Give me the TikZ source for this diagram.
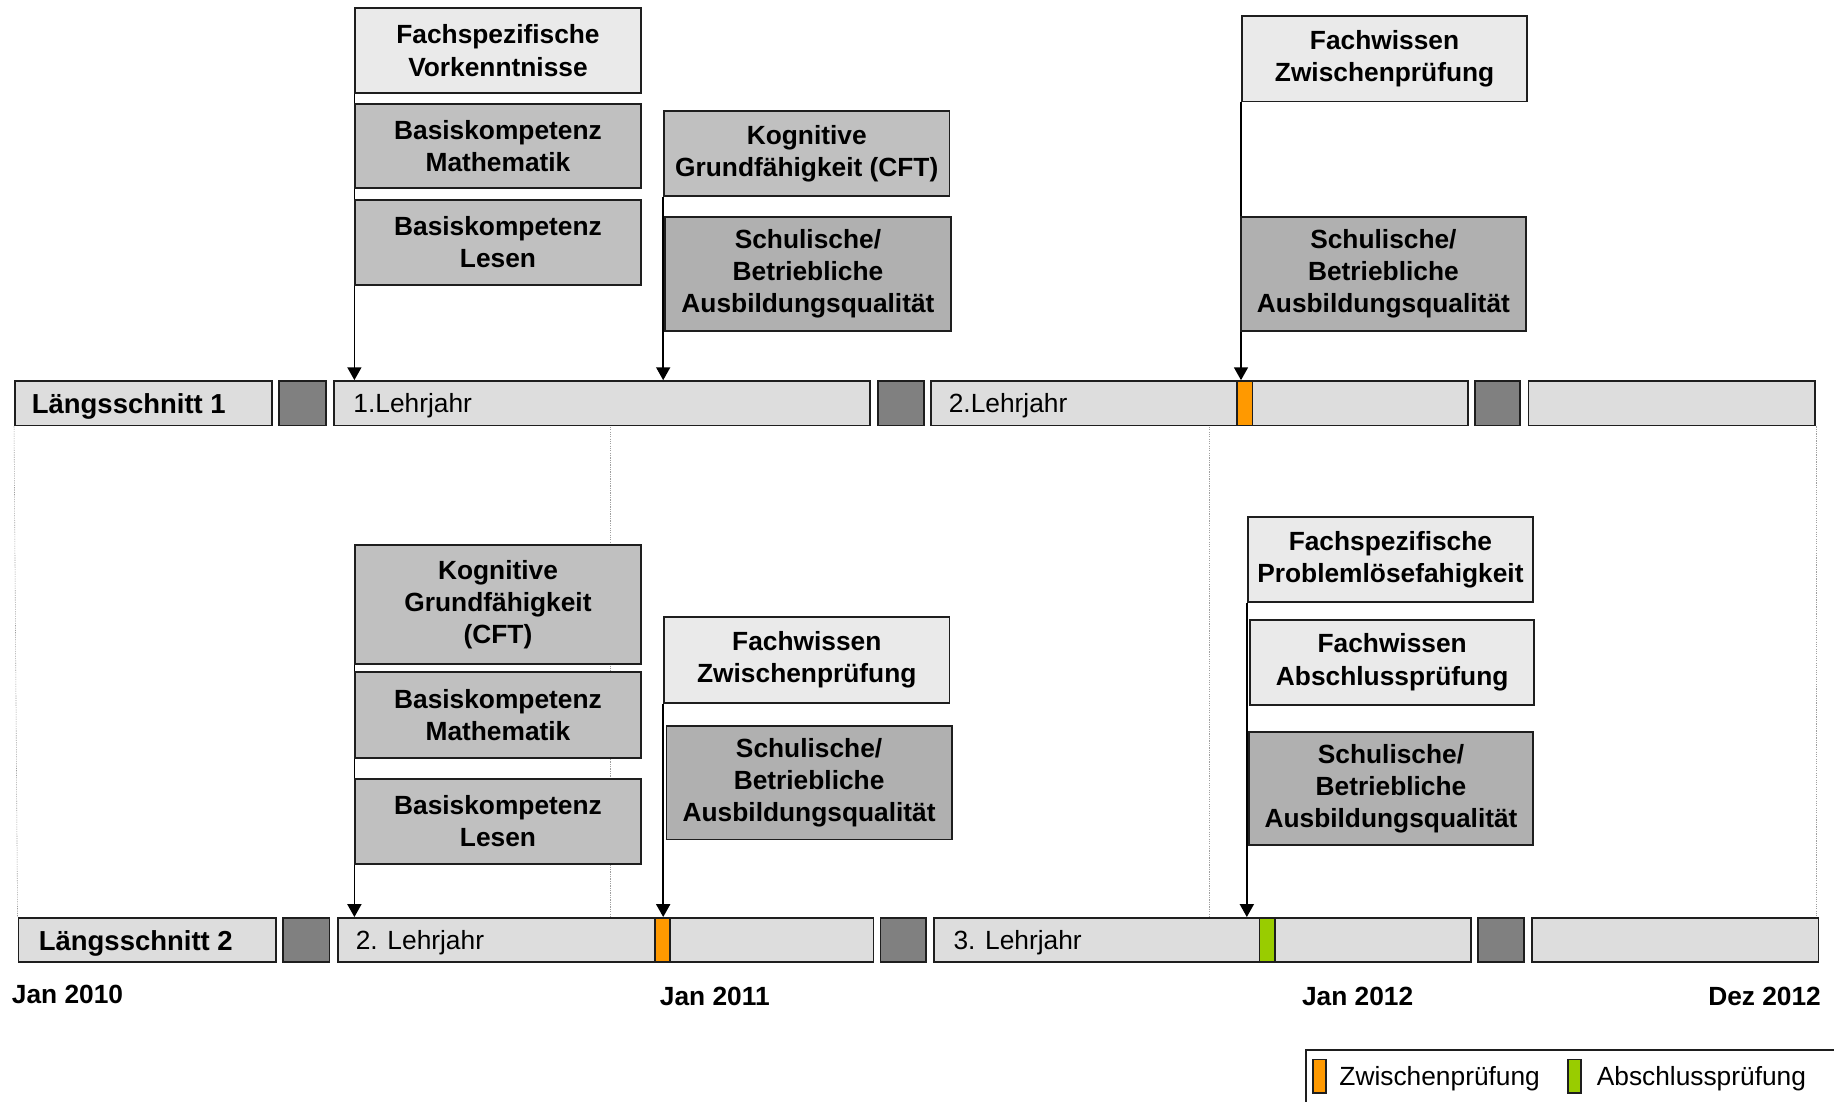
\documentclass[tikz,border=0pt]{standalone}
\usepackage{fontspec}
\setmainfont{Liberation Sans}
\usetikzlibrary{arrows.meta,backgrounds}
\definecolor{cLight}{HTML}{EAEAEA}
\definecolor{cMid}{HTML}{C0C0C0}
\definecolor{cDark}{HTML}{B0B0B0}
\definecolor{cBar}{HTML}{DDDDDD}
\definecolor{cSq}{HTML}{808080}
\definecolor{cOrange}{HTML}{FF9900}
\definecolor{cGreen}{HTML}{99CC00}
\definecolor{cEdge}{HTML}{1E1E1E}
\begin{document}
\begin{tikzpicture}[x=1pt,y=-1pt,
  every node/.style={font=\fontsize{22.5}{27}\selectfont},
  tbox/.style={draw=cEdge, line width=1.5pt, anchor=north west, inner sep=1pt,
    align=center, font=\fontsize{22.5}{27.5}\selectfont\bfseries, minimum width=244pt},
  lbox/.style={tbox, fill=cLight},
  mbox/.style={tbox, fill=cMid},
  dbox/.style={tbox, fill=cDark},
  bar/.style={draw=cEdge, line width=1.5pt, fill=cBar, anchor=north west, inner sep=0pt, minimum height=38pt},
  sqr/.style={bar, fill=cSq},
  omark/.style={bar, fill=cOrange, minimum width=13pt},
  gmark/.style={bar, fill=cGreen, minimum width=13pt},
  bartext/.style={anchor=west, inner sep=0pt},
  barhead/.style={bartext, font=\fontsize{23.5}{27}\selectfont\bfseries},
  datelbl/.style={inner sep=0pt, font=\fontsize{22.5}{27}\selectfont\bfseries},
  arr/.style={line width=1.3pt, draw=black, -{Triangle[width=12pt,length=11pt]}},
  gridln/.style={draw=gray!75, line width=0.5pt, dash pattern=on 1pt off 1pt},
  swatch/.style={draw=cEdge, line width=1.2pt, anchor=north west, inner sep=0pt, minimum width=11pt, minimum height=29pt}
]
\useasboundingbox (0,0) rectangle (1568,942);

% ---------- upper boxes ----------
\node[lbox, minimum height=73pt] (fv)  at (303,6)   {Fachspezifische\\Vorkenntnisse};
\node[mbox, minimum height=72pt] (bm1) at (303,88)  {Basiskompetenz\\Mathematik};
\node[mbox, minimum height=73pt] (bl1) at (303,170) {Basiskompetenz\\Lesen};
\node[mbox, minimum height=73pt] (kg1) at (567,94)  {Kognitive\\Grundfähigkeit (CFT)};
\node[dbox, minimum height=97pt] (sa1) at (568,185) {Schulische/\\Betriebliche\\Ausbildungsqualität};
\node[lbox, minimum height=73pt] (fz1) at (1061,13) {Fachwissen\\Zwischenprüfung};
\node[dbox, minimum height=97pt] (sa2) at (1060,185) {Schulische/\\Betriebliche\\Ausbildungsqualität};

% ---------- timeline 1 ----------
\node[bar, minimum width=220pt] (l1)  at (12,325)   {};
\node[sqr, minimum width=40pt]  (d11) at (238,325)  {};
\node[bar, minimum width=458pt] (y1)  at (285,325)  {};
\node[sqr, minimum width=39pt]  (d12) at (750,325)  {};
\node[bar, minimum width=459pt] (y2)  at (795,325)  {};
\node[sqr, minimum width=39pt]  (d13) at (1260,325) {};
\node[bar, minimum width=245pt] (e1)  at (1306,325) {};
\node[omark] (o1) at (1057,325) {};
\node[barhead] (t11) at ([xshift=15pt,yshift=-2.5pt]l1.west) {Längsschnitt 1};
\node[bartext] (t12) at ([xshift=17pt,yshift=-2.5pt]y1.west) {1.Lehrjahr};
\node[bartext] (t13) at ([xshift=16pt,yshift=-2.5pt]y2.west) {2.Lehrjahr};

% ---------- lower boxes ----------
\node[mbox, minimum height=102pt] (kg2) at (303,465) {Kognitive\\Grundfähigkeit\\(CFT)};
\node[mbox, minimum height=73pt]  (bm2) at (303,574) {Basiskompetenz\\Mathematik};
\node[mbox, minimum height=73pt]  (bl2) at (303,665) {Basiskompetenz\\Lesen};
\node[lbox, minimum height=73pt]  (fz2) at (567,527) {Fachwissen\\Zwischenprüfung};
\node[dbox, minimum height=97pt]  (sa3) at (569,620) {Schulische/\\Betriebliche\\Ausbildungsqualität};
\node[lbox, minimum height=73pt]  (fp)  at (1066,441) {Fachspezifische\\Problemlösefahigkeit};
\node[lbox, minimum height=73pt, minimum width=243pt] (fa) at (1068,529) {Fachwissen\\Abschlussprüfung};
\node[dbox, minimum height=97pt, minimum width=243pt] (sa4) at (1067,625) {Schulische/\\Betriebliche\\Ausbildungsqualität};

% ---------- timeline 2 ----------
\node[bar, minimum width=220pt] (l2)  at (15,784)   {};
\node[sqr, minimum width=40pt]  (d21) at (241,784)  {};
\node[bar, minimum width=458pt] (y3)  at (288,784)  {};
\node[sqr, minimum width=39pt]  (d22) at (752,784)  {};
\node[bar, minimum width=459pt] (y4)  at (798,784)  {};
\node[sqr, minimum width=39pt]  (d23) at (1263,784) {};
\node[bar, minimum width=245pt] (e2)  at (1309,784) {};
\node[omark] (o2) at (559,784) {};
\node[gmark] (g2) at (1076,784) {};
\node[barhead] (t21) at ([xshift=18pt,yshift=-2.5pt]l2.west) {Längsschnitt 2};
\node[bartext] (t22) at ([xshift=16pt,yshift=-2.5pt]y3.west) {2. Lehrjahr};
\node[bartext] (t23) at ([xshift=17pt,yshift=-2.5pt]y4.west) {3. Lehrjahr};

% ---------- dates ----------
\node[datelbl, anchor=west] (j10) at (10,850)   {Jan 2010};
\node[datelbl, anchor=west] (j11) at (564,852)  {Jan 2011};
\node[datelbl, anchor=west] (j12) at (1113,852) {Jan 2012};
\node[datelbl, anchor=east] (d12t) at (1557,852) {Dez 2012};

% ---------- legend ----------
\node[draw=cEdge, line width=1.2pt, anchor=north west, minimum width=452pt, minimum height=52pt, inner sep=0pt] (leg) at (1116,897) {};
\node[swatch, fill=cOrange] (lo) at (1122,905) {};
\node[bartext] (lot) at (1145,922) {Zwischenprüfung};
\node[swatch, fill=cGreen] (lg) at (1340,905) {};
\node[bartext] (lgt) at (1365,922) {Abschlussprüfung};

% ---------- connectors and grid (behind) ----------
\begin{pgfonlayer}{background}
  \draw[gridln] (l1.south west) -- (l2.north west);
  \draw[gridln] (522,363) -- (522,784);
  \draw[gridln] (1034,363) -- (1034,784);
  \draw[gridln] (e1.south east) -- (e1.south east |- e2.north);
  \draw[arr] (fv.south west)  -- (fv.south west |- y1.north);
  \draw[arr] (kg1.south west) -- (kg1.south west |- y1.north);
  \draw[arr] (fz1.south west) -- (fz1.south west |- y2.north);
  \draw[arr] (kg2.south west) -- (kg2.south west |- y3.north);
  \draw[arr] (fz2.south west) -- (fz2.south west |- y3.north);
  \draw[arr] (fp.south west)  -- (fp.south west |- y4.north);
\end{pgfonlayer}
\end{tikzpicture}
\end{document}
